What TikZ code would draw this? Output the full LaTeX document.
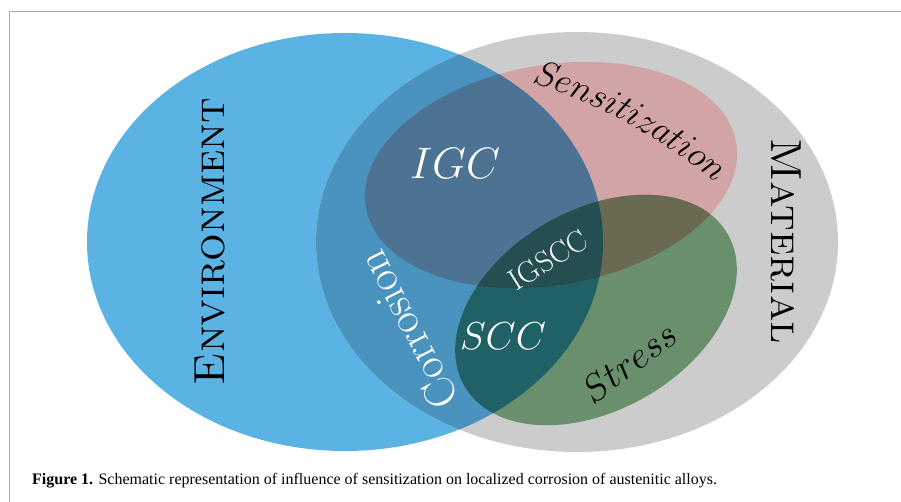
\RequirePackage{fix-cm}
\documentclass[tikz,border=0pt]{standalone}
\usepackage{fontspec}
\newfontfamily\capfont{Liberation Serif}
\usetikzlibrary{decorations.text}

\definecolor{envblue}{HTML}{5BB3E3}
\definecolor{matgrey}{HTML}{CCCCCC}
\definecolor{corrblue}{HTML}{4A93BF}
\definecolor{senspink}{HTML}{D3A4A5}
\definecolor{igcblue}{HTML}{4C7394}
\definecolor{stressgreen}{HTML}{6A8F6D}
\definecolor{sensstress}{HTML}{6A6A52}
\definecolor{sccteal}{HTML}{1F6165}
\definecolor{igsccteal}{HTML}{254E50}
\definecolor{framegrey}{HTML}{A8A8A8}

\begin{document}
\begin{tikzpicture}[x=1pt,y=1pt]
        \tikzset{settext/.style = {inner sep=0pt, font=\fontsize{43.5}{43.5}\selectfont\scshape}}
        \tikzset{zonetext/.style = {inner sep=0pt, text=white}}
        \tikzset{senstilt/.style = {rotate around={10:(551,327)}}}
        \tikzset{stresstilt/.style = {rotate around={30:(596,192)}}}

        \def\envset{(345,260) ellipse [x radius=258, y radius=209]}
        \def\matset{(577,260) ellipse [x radius=261, y radius=210]}
        \def\sensset{(551,327) ellipse [x radius=188, y radius=110]}
        \def\stressset{(596,192) ellipse [x radius=152, y radius=100]}

        \useasboundingbox (0,0) rectangle (901,502);
        \draw[framegrey, line width=1pt] (9,0) -- (9,490) -- (901,490);

        % sets
        \fill[envblue] \envset;
        \fill[matgrey] \matset;
        \fill[senspink, senstilt] \sensset;
        \fill[stressgreen, stresstilt] \stressset;

        % overlaps
        \begin{scope}
            \clip[senstilt] \sensset;
            \fill[sensstress, stresstilt] \stressset;
        \end{scope}
        \begin{scope}
            \clip \envset;
            \fill[corrblue] \matset;
            \fill[igcblue, senstilt] \sensset;
            \fill[sccteal, stresstilt] \stressset;
            \clip[senstilt] \sensset;
            \fill[igsccteal, stresstilt] \stressset;
        \end{scope}

        % labels
        \node[settext, rotate=90] (env) at (210,260.5) {Environment};
        \node[settext, rotate=-90] (mat) at (786,260.5) {Material};
        \node[zonetext, font=\fontsize{44}{44}\selectfont] (igc) at (455,339) {$IGC$};
        \node[zonetext, font=\fontsize{39}{39}\selectfont] (scc) at (503,166) {$SCC$};
        \node[zonetext, font=\fontsize{30}{30}\selectfont, rotate=32] (igscc) at (548,242) {IGSCC};
        \node[zonetext, text=black, font=\fontsize{38}{38}\selectfont, rotate=37] (stress) at (629,140) {$Stress$};

        \path[decorate, decoration={text along path, text align=center,
            text={|\fontsize{36}{36}\usefont{OML}{cmm}{m}{it}|Sensitization}}]
            (505,426) .. controls (580,410) and (678,358) .. (736,301);
        \path[decorate, decoration={text along path, text align=center,
            text={|\fontsize{44}{44}\selectfont\color{white}|Corrosion}}]
            (480,70) .. controls (436,145) and (401,214) .. (364,290);

        \node[anchor=base west, inner sep=0pt, font=\capfont\fontsize{16}{16}\selectfont] (caption) at (32,17)
            {\textbf{Figure 1.} Schematic representation of influence of sensitization on localized corrosion of austenitic alloys.};

    \end{tikzpicture}
\end{document}
